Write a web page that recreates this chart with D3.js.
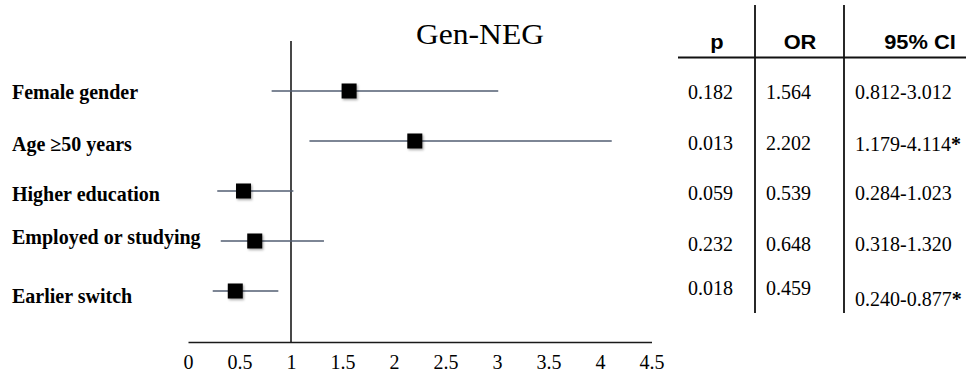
<!DOCTYPE html>
<html>
<head>
<meta charset="utf-8">
<script src="https://cdn.jsdelivr.net/npm/d3@7"></script>
<style>
  html, body { margin: 0; padding: 0; background: #fff; }
  svg { display: block; }
</style>
</head>
<body>
<svg id="chart" width="966" height="374"></svg>
<script>
// ---- data ----
const title = "Gen-NEG";
const categories = ["Female gender", "Age \u226550 years", "Higher education", "Employed or studying", "Earlier switch"];
const orValues = [1.564, 2.202, 0.539, 0.648, 0.459];
const ciLow = [0.812, 1.179, 0.284, 0.318, 0.240];
const ciHigh = [3.012, 4.114, 1.023, 1.320, 0.877];
const pValues = ["0.182", "0.013", "0.059", "0.232", "0.018"];
const orLabels = ["1.564", "2.202", "0.539", "0.648", "0.459"];
const ciLabels = ["0.812-3.012", "1.179-4.114", "0.284-1.023", "0.318-1.320", "0.240-0.877"];
const significant = [false, true, false, false, true];
const xTicks = [0, 0.5, 1, 1.5, 2, 2.5, 3, 3.5, 4, 4.5];
const tableHeaders = ["p", "OR", "95% CI"];
const referenceValue = 1;

// ---- layout ----
const svg = d3.select("#chart");
const serif = "'Liberation Serif', 'Times New Roman', serif";
const sans = "'Liberation Sans', Arial, sans-serif";
const axisY = 342;

const x = d3.scaleLinear().domain([0, 4.5]).range([188, 651.5]);
const y = d3.scalePoint().domain(categories).range([91, 291]);

const defs = svg.append("defs");
const f = defs.append("filter").attr("id", "shadow").attr("x", "-30%").attr("y", "-30%").attr("width", "170%").attr("height", "170%");
f.append("feDropShadow").attr("dx", 1.2).attr("dy", 1.5).attr("stdDeviation", 1.2)
  .attr("flood-color", "#000").attr("flood-opacity", 0.35);

// title
svg.append("text")
  .attr("transform", "translate(480,44) scale(1.09,1)")
  .attr("text-anchor", "middle")
  .attr("font-family", serif).attr("font-size", 29).attr("fill", "#000")
  .text(title);

// reference line at OR = 1
svg.append("line")
  .attr("x1", x(referenceValue)).attr("x2", x(referenceValue))
  .attr("y1", 41).attr("y2", axisY)
  .attr("stroke", "#1a1a1a").attr("stroke-width", 1.6);

// x axis
const xAxis = d3.axisBottom(x).tickValues(xTicks).tickSize(0).tickSizeOuter(0).tickPadding(13)
  .tickFormat(d3.format(""));
const gx = svg.append("g").attr("transform", `translate(0,${axisY})`).call(xAxis);
gx.select(".domain").attr("stroke", "#1a1a1a").attr("stroke-width", 1.6);
gx.selectAll("text").attr("font-family", serif).attr("font-size", 20).attr("fill", "#000");

// category labels
const labelDy = [7.5, 9.5, 9.5, 2.5, 12];
svg.append("g").selectAll("text").data(categories).join("text")
  .attr("x", 12)
  .attr("y", (d, i) => y(d) + labelDy[i])
  .attr("font-family", serif).attr("font-weight", "bold").attr("font-size", 20).attr("fill", "#000")
  .text(d => d);

// CI lines
const rows = categories.map((c, i) => ({ c, or: orValues[i], lo: ciLow[i], hi: ciHigh[i] }));
svg.append("g").selectAll("line").data(rows).join("line")
  .attr("x1", d => x(d.lo)).attr("x2", d => x(d.hi))
  .attr("y1", d => y(d.c)).attr("y2", d => y(d.c))
  .attr("stroke", "#525e72").attr("stroke-width", 1.6);

// squares
const sq = 15;
svg.append("g").selectAll("rect").data(rows).join("rect")
  .attr("x", d => x(d.or) - sq / 2).attr("y", d => y(d.c) - sq / 2)
  .attr("width", sq).attr("height", sq)
  .attr("fill", "#000").attr("filter", "url(#shadow)");

// table
const colX = [688, 766, 855];
const headX = [717, 800, 920];
const tbl = svg.append("g");
tableHeaders.forEach((h, i) => {
  tbl.append("text")
    .attr("transform", `translate(${headX[i]},49) scale(1.12,1)`)
    .attr("text-anchor", "middle")
    .attr("font-family", sans).attr("font-weight", "bold").attr("font-size", 19.5).attr("fill", "#000")
    .text(h);
});
tbl.append("line").attr("x1", 678).attr("x2", 966).attr("y1", 57.5).attr("y2", 57.5)
  .attr("stroke", "#111").attr("stroke-width", 1.8);
[755, 844].forEach(vx => {
  tbl.append("line").attr("x1", vx).attr("x2", vx).attr("y1", 5).attr("y2", 313)
    .attr("stroke", "#111").attr("stroke-width", 1.8);
});

const dataDy = [8, 9, 8.5, 10, 4];
const ciDy = [8, 10, 8.5, 10, 15];
const cols = [pValues, orLabels];
cols.forEach((col, ci) => {
  tbl.append("g").selectAll("text").data(col).join("text")
    .attr("x", colX[ci])
    .attr("y", (d, i) => y(categories[i]) + dataDy[i])
    .attr("font-family", serif).attr("font-size", 20).attr("fill", "#000")
    .text(d => d);
});
const ciText = tbl.append("g").selectAll("text").data(ciLabels).join("text")
  .attr("x", colX[2])
  .attr("y", (d, i) => y(categories[i]) + ciDy[i])
  .attr("font-family", serif).attr("font-size", 20).attr("fill", "#000");
ciText.append("tspan").text(d => d);
ciText.append("tspan").attr("font-weight", "bold")
  .text((d, i) => significant[i] ? "*" : "");
</script>
</body>
</html>
